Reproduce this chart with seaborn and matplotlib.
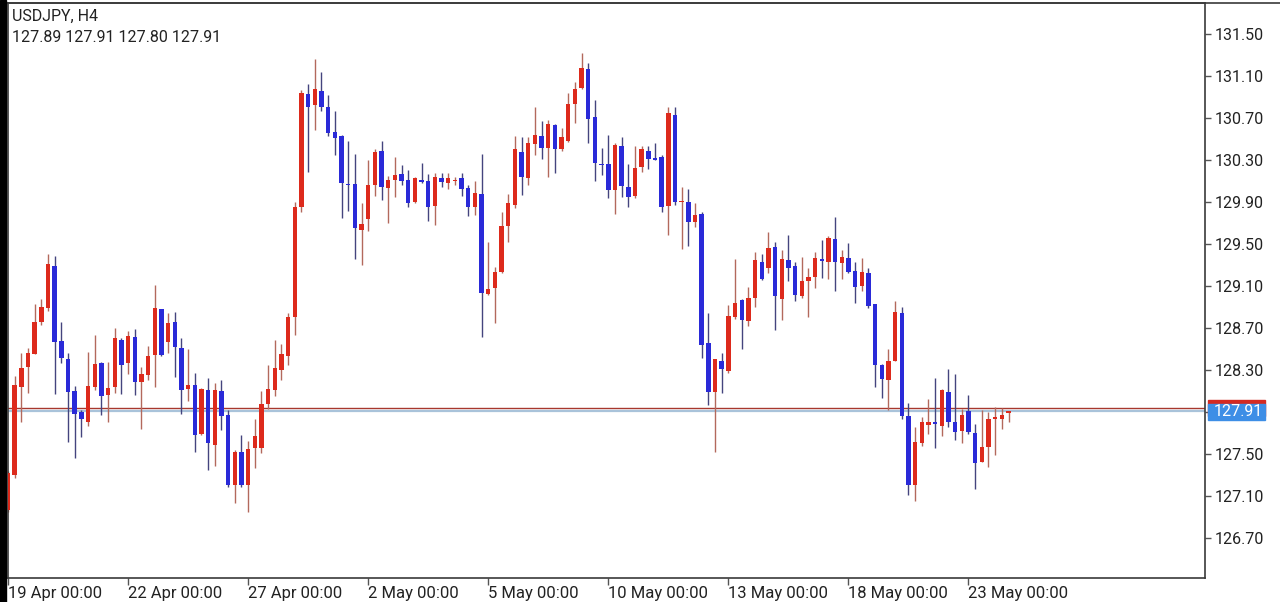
import matplotlib
matplotlib.use('Agg')

import numpy as np
import matplotlib.pyplot as plt
import matplotlib.transforms as mtransforms
from matplotlib.patches import Rectangle
import seaborn as sns

# USDJPY H4 candles, 19 Apr 00:00 onwards (one bar per 4 hours, weekends skipped)
opens = [126.97, 127.30, 128.14, 128.33, 128.45, 128.76, 128.89, 129.29, 128.58, 128.40,
         128.10, 127.90, 127.80, 128.14, 128.37, 128.06, 128.14, 128.59, 128.37, 128.61,
         128.19, 128.25, 128.44, 128.88, 128.57, 128.76, 128.51, 128.12, 128.16, 127.69,
         128.11, 127.59, 128.10, 127.87, 127.20, 127.52, 127.20, 127.56, 127.56, 127.98,
         128.11, 128.30, 128.43, 128.80, 129.85, 130.93, 130.82, 130.96, 130.80, 130.57,
         130.53, 130.07, 130.07, 129.63, 129.74, 130.06, 130.39, 130.03, 130.11, 130.17,
         130.11, 129.90, 130.11, 130.10, 129.86, 130.13, 130.08, 130.10, 130.13, 130.03,
         129.85, 129.98, 129.02, 129.08, 129.23, 129.67, 129.87, 130.38, 130.13, 130.45,
         130.53, 130.41, 130.63, 130.40, 130.48, 130.83, 130.99, 131.17, 130.71, 130.26,
         130.26, 130.01, 130.43, 130.04, 129.96, 130.23, 130.39, 130.32, 130.33, 129.86,
         130.73, 129.90, 129.90, 129.71, 129.79, 128.56, 128.09, 128.39, 128.29, 128.80,
         128.97, 128.77, 128.99, 129.33, 129.27, 129.47, 128.98, 129.35, 129.29, 129.00,
         129.15, 129.19, 129.36, 129.33, 129.55, 129.32, 129.37, 129.24, 129.10, 129.22,
         128.93, 128.35, 128.20, 128.39, 128.84, 127.86, 127.20, 127.60, 127.78, 127.80,
         127.77, 128.09, 127.80, 127.72, 127.91, 127.70, 127.42, 127.57, 127.83, 127.83,
         127.89]
highs = [127.34, 128.24, 128.46, 128.51, 128.93, 128.98, 129.40, 129.39, 128.76, 128.46,
         128.15, 127.92, 128.47, 128.63, 128.38, 128.38, 128.70, 128.60, 128.67, 128.69,
         128.33, 128.53, 129.11, 128.88, 128.84, 128.85, 128.60, 128.50, 128.27, 128.13,
         128.22, 128.18, 128.20, 127.92, 127.54, 127.68, 127.62, 127.83, 128.10, 128.35,
         128.59, 128.55, 128.84, 129.90, 130.97, 131.02, 131.26, 131.14, 130.92, 130.77,
         130.54, 130.48, 130.36, 129.89, 130.30, 130.40, 130.48, 130.15, 130.33, 130.25,
         130.20, 130.14, 130.27, 130.17, 130.18, 130.18, 130.18, 130.14, 130.18, 130.06,
         130.10, 130.36, 129.52, 129.28, 129.80, 129.98, 130.53, 130.52, 130.52, 130.80,
         130.67, 130.68, 130.64, 130.60, 130.94, 131.04, 131.32, 131.22, 130.87, 130.41,
         130.54, 130.46, 130.52, 130.26, 130.43, 130.43, 130.43, 130.46, 130.35, 130.80,
         130.80, 130.04, 130.02, 129.89, 129.80, 128.84, 128.40, 128.46, 128.92, 129.36,
         128.98, 129.09, 129.42, 129.40, 129.61, 129.52, 129.44, 129.59, 129.33, 129.38,
         129.27, 129.42, 129.54, 129.58, 129.76, 129.44, 129.51, 129.33, 129.37, 129.27,
         128.93, 128.36, 128.50, 128.96, 128.90, 127.99, 127.76, 127.85, 128.02, 128.22,
         128.12, 128.31, 128.26, 127.93, 128.06, 127.79, 127.92, 127.90, 127.95, 127.94,
         127.91]
lows = [126.95, 127.27, 127.80, 128.08, 128.45, 128.73, 128.86, 128.07, 128.37, 127.61,
        127.46, 127.66, 127.77, 128.11, 127.87, 127.80, 128.08, 128.07, 128.26, 128.06,
        127.74, 128.20, 128.14, 128.43, 128.46, 128.23, 127.88, 128.00, 127.52, 127.68,
        127.35, 127.39, 127.73, 127.19, 127.03, 127.19, 126.95, 127.37, 127.51, 127.93,
        128.05, 128.20, 128.35, 128.63, 129.80, 130.19, 130.59, 130.77, 130.53, 130.35,
        129.75, 129.81, 129.36, 129.30, 129.62, 129.96, 129.92, 129.70, 129.95, 130.06,
        129.85, 129.89, 130.08, 129.72, 129.68, 130.04, 130.02, 130.06, 129.96, 129.77,
        129.78, 128.61, 129.01, 128.75, 129.22, 129.52, 129.84, 129.97, 130.06, 130.35,
        130.31, 130.14, 130.18, 130.39, 130.47, 130.65, 130.98, 130.46, 130.10, 130.16,
        129.94, 129.79, 129.95, 129.85, 129.94, 130.19, 130.21, 130.30, 129.80, 129.59,
        129.87, 129.45, 129.48, 129.66, 128.41, 127.97, 127.52, 128.08, 128.27, 128.79,
        128.50, 128.72, 128.90, 129.16, 129.22, 128.68, 128.78, 129.15, 128.96, 128.99,
        128.80, 129.08, 129.18, 129.17, 129.05, 129.17, 129.22, 128.94, 129.05, 128.89,
        128.14, 128.03, 127.92, 128.39, 127.83, 127.11, 127.05, 127.58, 127.69, 127.56,
        127.67, 127.76, 127.63, 127.60, 127.69, 127.17, 127.42, 127.38, 127.49, 127.74,
        127.80]
closes = [127.32, 128.16, 128.32, 128.46, 128.76, 128.90, 129.31, 128.57, 128.41, 128.09,
          127.88, 127.83, 128.15, 128.36, 128.05, 128.13, 128.60, 128.35, 128.62, 128.19,
          128.26, 128.43, 128.89, 128.44, 128.75, 128.52, 128.11, 128.16, 127.68, 128.12,
          127.60, 128.11, 127.86, 127.20, 127.52, 127.20, 127.55, 127.67, 127.98, 128.12,
          128.32, 128.45, 128.80, 129.85, 130.94, 130.80, 130.98, 130.80, 130.56, 130.51,
          130.08, 130.06, 129.65, 129.69, 130.06, 130.38, 130.04, 130.11, 130.16, 130.10,
          129.89, 130.13, 130.09, 129.85, 130.14, 130.09, 130.13, 130.11, 130.02, 129.85,
          129.99, 129.03, 129.07, 129.23, 129.67, 129.89, 130.40, 130.14, 130.46, 130.54,
          130.41, 130.64, 130.40, 130.52, 130.83, 130.98, 131.18, 130.69, 130.27, 130.25,
          130.01, 130.44, 130.05, 129.95, 130.22, 130.40, 130.31, 130.30, 129.85, 130.75,
          129.90, 129.91, 129.71, 129.78, 128.54, 128.09, 128.40, 128.31, 128.81, 128.94,
          128.78, 128.99, 129.35, 129.17, 129.46, 129.00, 129.36, 129.27, 129.01, 129.15,
          129.19, 129.37, 129.34, 129.56, 129.33, 129.38, 129.23, 129.09, 129.23, 128.91,
          128.35, 128.21, 128.39, 128.85, 127.86, 127.20, 127.61, 127.80, 127.80, 127.79,
          128.11, 127.80, 127.71, 127.87, 127.71, 127.41, 127.57, 127.83, 127.85, 127.87,
          127.91]

tick_labels = ['19 Apr 00:00', '22 Apr 00:00', '27 Apr 00:00', '2 May 00:00', '5 May 00:00',
               '10 May 00:00', '13 May 00:00', '18 May 00:00', '23 May 00:00']
bars_per_tick = 18
price_ticks = [126.70, 127.10, 127.50, 127.90, 128.30, 128.70, 129.10, 129.50, 129.90,
               130.30, 130.70, 131.10, 131.50]
bid, ask = 127.91, 127.94
symbol = 'USDJPY, H4'

up_color, down_color = '#dd2a1c', '#2a2ad8'
up_wick, down_wick = '#b3695c', '#44447e'

sns.set_theme(style='white')
plt.rcParams['font.family'] = ['Roboto', 'DejaVu Sans']

fig = plt.figure(figsize=(12.8, 6.02), dpi=100)
W, H = 1280, 602
ax = fig.add_axes([8 / W, 1 - 578 / H, (1205 - 8) / W, (578 - 3) / H])

o, h, l, c = map(np.array, (opens, highs, lows, closes))
x = np.arange(len(o))
up = c >= o
body_col = np.where(up, up_color, down_color)
wick_col = np.where(up, up_wick, down_wick)
bottom = np.minimum(o, c)
height = np.maximum(np.abs(c - o), 0.012)

ax.vlines(x, l, h, colors=wick_col, linewidth=1.0, zorder=2)
ax.bar(x, height, bottom=bottom, width=0.66, color=body_col, linewidth=0, zorder=3)

# bid / ask lines
ax.axhline(ask, color='#a8382e', lw=1.0, zorder=1)
ax.axhline(bid, color='#a9c3da', lw=1.6, zorder=1)

ax.set_xlim(0, 179.46)
ax.set_ylim(126.319, 131.795)

ax.set_xticks(np.arange(len(tick_labels)) * bars_per_tick)
ax.set_xticklabels(tick_labels)
for t in ax.get_xticklabels():
    t.set_ha('left')
ax.tick_params(axis='x', length=5, width=1, color='#555555', pad=1,
               labelsize=12, labelcolor='#222222', bottom=True)

# the tick level hidden behind the bid price box gets no label
ax.yaxis.tick_right()
ax.set_yticks(price_ticks)
ax.set_yticklabels(['' if abs(p - bid) < 0.05 else f'{p:.2f}' for p in price_ticks])
ax.tick_params(axis='y', length=4, width=1, color='#555555', pad=3,
               labelsize=11.5, labelcolor='#222222', right=True)

for s in ax.spines.values():
    s.set_color('#3a3a3a')
    s.set_linewidth(1.2)

# price labels at the right edge
tr = mtransforms.blended_transform_factory(ax.transAxes, ax.transData)
box_h = 0.155
ax.add_patch(Rectangle((1.0025, ask - box_h / 2), 0.048, box_h, transform=tr,
                       color='#d42a22', clip_on=False, zorder=5))
ax.add_patch(Rectangle((1.0025, bid - box_h / 2 - 0.01), 0.048, box_h, transform=tr,
                       color='#3d8ee6', clip_on=False, zorder=6))
ax.text(1.0035 + 0.024, bid - 0.01, f'{bid:.2f}', transform=tr, ha='center', va='center',
        color='white', fontsize=11.5, zorder=7, clip_on=False)

# header
ax.text(4 / 1197, 1 - 13 / 575, symbol, transform=ax.transAxes, ha='left', va='center',
        fontsize=11.5, color='#222222')
ax.text(4 / 1197, 1 - 35 / 575, ' '.join(f'{v:.2f}' for v in (o[-1], h[-1], l[-1], c[-1])),
        transform=ax.transAxes, ha='left', va='center', fontsize=11.5, color='#222222')

# device bezel on the left and top frame line
fig.patches.append(Rectangle((0, 0), 6 / W, 1, transform=fig.transFigure,
                             color='black', zorder=10))
fig.lines.append(plt.Line2D([8 / W, 1], [1 - 3 / H, 1 - 3 / H], transform=fig.transFigure,
                            color='#3a3a3a', lw=1.2))

fig.savefig('out.png', dpi=100, facecolor='white')
